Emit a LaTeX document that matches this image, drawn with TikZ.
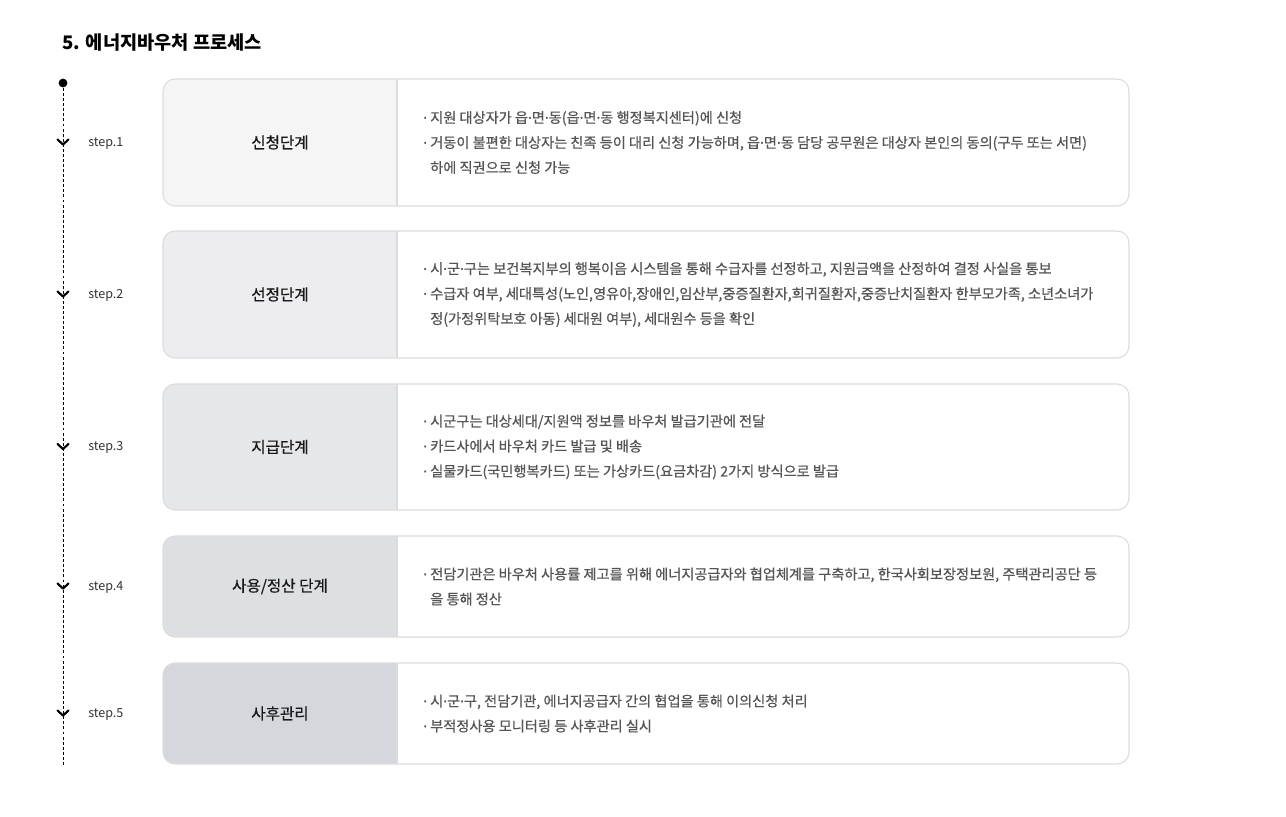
\documentclass[tikz,border=0pt]{standalone}
\usepackage{fontspec}
\setmainfont{Noto Sans CJK KR}
\newfontfamily\krmed{Noto Sans CJK KR}[FakeBold=0.6]
\newfontfamily\dotfont{Noto Sans}[FakeBold=0.6]
\usepackage{tikz}
\usetikzlibrary{positioning}
\definecolor{lineGray}{HTML}{DCDCDE}
\definecolor{bodyGray}{HTML}{555555}
\definecolor{fillA}{HTML}{F5F5F6}
\definecolor{fillB}{HTML}{EDEDEF}
\definecolor{fillC}{HTML}{E6E7E9}
\definecolor{fillD}{HTML}{DEDFE3}
\definecolor{fillE}{HTML}{D5D7DC}
\tikzset{StepFrame/.style={%
    draw=lineGray,%
    line width=0.8pt,%
    rounded corners=9pt,%
}}
\tikzset{StepLabel/.style={%
    font=\krmed\fontsize{11.7pt}{13pt}\selectfont,%
    text=black!90,%
    inner sep=0pt,%
}}
\tikzset{StepText/.style={%
    font=\krmed\fontsize{10.65pt}{18.75pt}\selectfont,%
    text=bodyGray,%
    align=left,%
    anchor=west,%
    inner sep=0pt,%
}}
\tikzset{StepTag/.style={%
    font=\fontsize{9.4pt}{12pt}\selectfont,%
    text=black!80,%
    anchor=mid west,%
    inner sep=0pt,%
}}
\tikzset{Chevron/.style={%
    line width=1.6pt,%
    line cap=round,%
    line join=round,%
}}
\NewDocumentCommand{\stepBox}{m m m m m m}{%
    % #1 name, #2 top, #3 bottom, #4 fill, #5 label, #6 text
    \begin{scope}
        \clip[rounded corners=9pt] (163,#2) rectangle (1129,#3);
        \fill[white] (163,#2) rectangle (1129,#3);
        \fill[#4] (163,#2) rectangle (397,#3);
    \end{scope}
    \draw[lineGray, line width=0.8pt] (397,#2) -- (397,#3);
    \draw[StepFrame] (163,#2) rectangle (1129,#3);
    \node[StepLabel] (#1) at (280,{(#2+#3)/2}) {#5};
    \node[StepText] (#1txt) at (423,{(#2+#3)/2}) {#6};
    \draw[Chevron] (57.5,{(#2+#3)/2-3}) -- (63,{(#2+#3)/2+2}) -- (68.5,{(#2+#3)/2-3});
    \node[StepTag] (#1tag) at (88,{(#2+#3)/2}) {step.#1};
}
\newcommand{\md}{{\dotfont ·}}
\newcommand{\gap}{\phantom{\md\ }}

\begin{document}
\begin{tikzpicture}[x=0.75pt, y=-0.75pt]
    \useasboundingbox[fill=white] (0,0) rectangle (1286,817);

    \node[anchor=base west, inner sep=0pt, font=\fontsize{14pt}{16pt}\selectfont\bfseries] (title) at (62,50) {5. 에너지바우처 프로세스};

    % timeline
    \fill (63,83) circle (4.4);
    \coordinate (dot) at (63,83);
    \coordinate (tail) at (63,765);
    \draw[line width=0.7pt, dash pattern=on 2.2pt off 1.6pt] (dot) -- (tail);

    \stepBox{1}{79}{206}{fillA}{신청단계}{%
        \md\ 지원 대상자가 읍\md 면\md 동(읍\md 면\md 동 행정복지센터)에 신청\\
        \md\ 거동이 불편한 대상자는 친족 등이 대리 신청 가능하며, 읍\md 면\md 동 담당 공무원은 대상자 본인의 동의(구두 또는 서면)\\
        \gap 하에 직권으로 신청 가능}
    \stepBox{2}{231}{358}{fillB}{선정단계}{%
        \md\ 시\md 군\md 구는 보건복지부의 행복이음 시스템을 통해 수급자를 선정하고, 지원금액을 산정하여 결정 사실을 통보\\
        \md\ 수급자 여부, 세대특성(노인,영유아,장애인,임산부,중증질환자,희귀질환자,중증난치질환자 한부모가족, 소년소녀가\\
        \gap 정(가정위탁보호 아동) 세대원 여부), 세대원수 등을 확인}
    \stepBox{3}{384}{510}{fillC}{지급단계}{%
        \md\ 시군구는 대상세대/지원액 정보를 바우처 발급기관에 전달\\
        \md\ 카드사에서 바우처 카드 발급 및 배송\\
        \md\ 실물카드(국민행복카드) 또는 가상카드(요금차감) 2가지 방식으로 발급}
    \stepBox{4}{536}{637}{fillD}{사용/정산 단계}{%
        \md\ 전담기관은 바우처 사용률 제고를 위해 에너지공급자와 협업체계를 구축하고, 한국사회보장정보원, 주택관리공단 등\\
        \gap 을 통해 정산}
    \stepBox{5}{663}{764}{fillE}{사후관리}{%
        \md\ 시\md 군\md 구, 전담기관, 에너지공급자 간의 협업을 통해 이의신청 처리\\
        \md\ 부적정사용 모니터링 등 사후관리 실시}
\end{tikzpicture}
\end{document}
